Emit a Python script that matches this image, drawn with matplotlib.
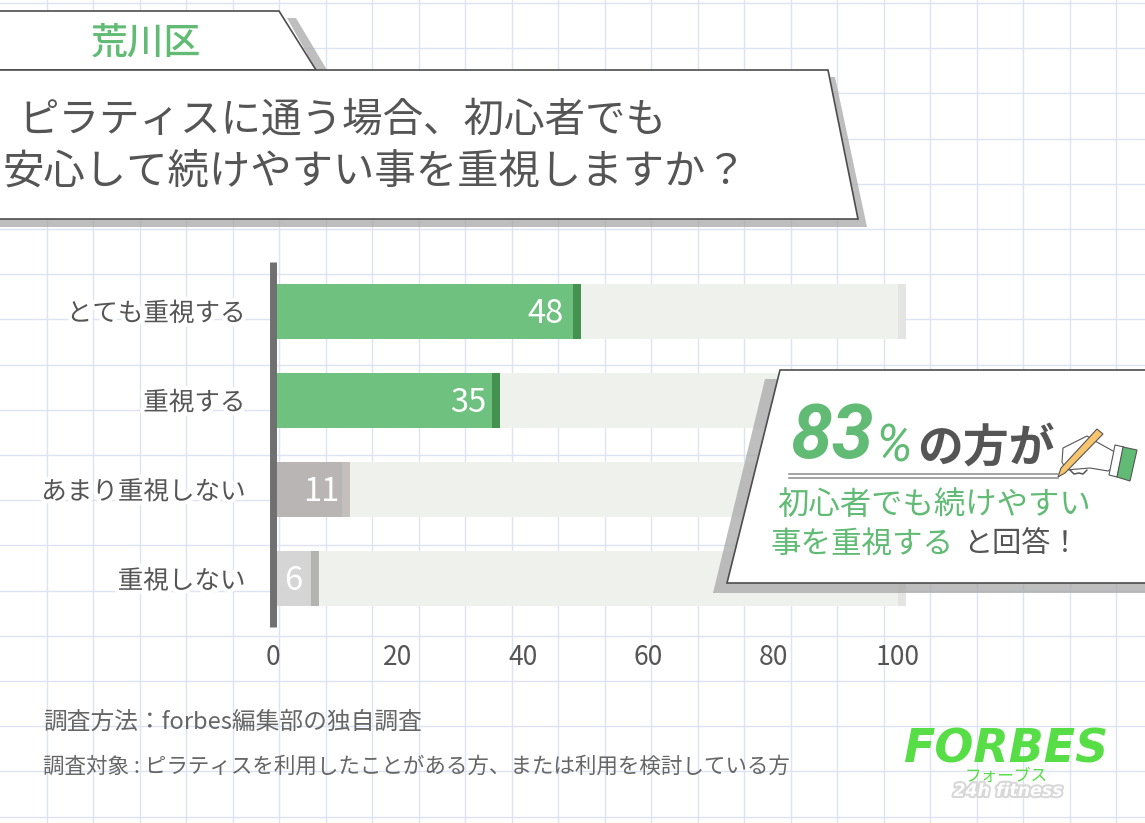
import numpy as np
import matplotlib
matplotlib.use('Agg')
import matplotlib.pyplot as plt
import matplotlib.patheffects as pe
from matplotlib.patches import Polygon

plt.rcParams['font.family'] = ['Noto Sans CJK JP', 'DejaVu Sans']

W, H = 1145, 823

# chart data
categories = ['とても重視する', '重視する', 'あまり重視しない', '重視しない']
values = [48, 35, 11, 6]
xticks = [0, 20, 40, 60, 80, 100]
total = 100

# per-bar styling
bar_colors = ['#6fc17f', '#6fc17f', '#b9b5b5', '#d6d5d5']
cap_colors = ['#45914f', '#45914f', '#c2bfbd', '#b3b3b0']
label_pads = [9, 5, 2, 8]

GREEN = '#62bb75'
DARK = '#555555'

fig = plt.figure(figsize=(W / 100, H / 100), dpi=100)


def pixel_axes(zorder):
    """Full-figure axes in image pixels, y pointing down."""
    a = fig.add_axes([0, 0, 1, 1], zorder=zorder)
    a.set_xlim(0, W)
    a.set_ylim(H, 0)
    a.axis('off')
    return a


# squared paper background
bg = pixel_axes(0)
for x in np.arange(46.5, W, 46.5):
    bg.axvline(x, color='#dde3f3', lw=1.0)
for y in np.arange(3, H, 45.2):
    bg.axhline(y, color='#dde3f3', lw=1.0)

# bars
x0, px_per_unit = 273, 6.25
top, bottom, row = 262, 627, 89.2
ax = fig.add_axes([x0 / W, 1 - bottom / H, 105 * px_per_unit / W, (bottom - top) / H], zorder=1)
ax.patch.set_alpha(0)
ax.set_xlim(0, 105)
ax.set_ylim((bottom - 311) / row, (top - 311) / row)

ypos = np.arange(len(categories))
bar_h = 55 / row
cap_w = 8 / px_per_unit
ax.barh(ypos, [total] * len(ypos), height=bar_h, color='#eff1ed')
ax.barh(ypos, [cap_w] * len(ypos), left=total, height=bar_h, color='#e4e5e2')
ax.barh(ypos, values, height=bar_h, color=bar_colors)
ax.barh(ypos, [cap_w] * len(ypos), left=values, height=bar_h, color=cap_colors)

for y, v, pad in zip(ypos, values, label_pads):
    ax.annotate(str(v), (v, y), xytext=(-pad * 0.72, -2), textcoords='offset points',
                ha='right', va='center', color='white', fontsize=23.5)

for side in ['top', 'right', 'bottom']:
    ax.spines[side].set_visible(False)
ax.spines['left'].set_color('#707070')
ax.spines['left'].set_linewidth(5)
ax.spines['left'].set_capstyle('butt')

ax.set_yticks(ypos)
ax.set_yticklabels(categories, fontsize=18.4, color=DARK)
ax.set_xticks(xticks)
ax.set_xticklabels([str(t) for t in xticks], fontsize=19, color=DARK)
ax.tick_params(axis='y', length=0, pad=20)
ax.tick_params(axis='x', length=0, pad=12.5)
for lab in ax.get_yticklabels():
    lab.set_path_effects([pe.withStroke(linewidth=6, foreground='white')])

# everything on top of the chart
top_ax = pixel_axes(2)
SHADOW = dict(facecolor='#a8a8a8', alpha=0.75, edgecolor='none')
BOX = dict(facecolor='white', edgecolor='#4d4d4d', linewidth=1.2)

# header tab and title box
top_ax.add_patch(Polygon([(287, 18), (296, 18), (327, 70), (316, 70)], **SHADOW))
top_ax.add_patch(Polygon([(-5, 11), (279, 11), (316, 70), (-5, 70)], **BOX))
top_ax.add_patch(Polygon([(828, 77), (835, 77), (867, 227), (-5, 227), (-5, 219), (858, 219)], **SHADOW))
top_ax.add_patch(Polygon([(-5, 70), (828, 70), (858, 219), (-5, 219)], **BOX))
top_ax.text(146, 43, '荒川区', color=GREEN, fontsize=26.5, ha='center', va='center', weight='medium')
top_ax.text(342, 120, 'ピラティスに通う場合、初心者でも', color=DARK, fontsize=29.2, ha='center', va='center')
top_ax.text(375, 173, '安心して続けやすい事を重視しますか？', color=DARK, fontsize=29.8, ha='center', va='center')

# callout
top_ax.add_patch(Polygon([(765, 379), (713, 593), (W + 5, 593), (W + 5, 583), (727, 583), (780, 379)], **SHADOW))
top_ax.add_patch(Polygon([(780, 370), (W + 5, 370), (W + 5, 583), (727, 583)], **BOX))
top_ax.text(790, 437, '83', color=GREEN, fontsize=54, family='Roboto', weight='bold', style='italic',
            ha='left', va='center')
top_ax.text(875, 447, '%', color=GREEN, fontsize=37, family='Roboto', style='italic', ha='left', va='center')
top_ax.text(917, 449, 'の方が', color=DARK, fontsize=33, weight='bold', ha='left', va='center')
top_ax.plot([789, 1058], [474, 474], color='#8a8a8a', lw=1.1)
top_ax.plot([789, 1058], [478, 478], color='#8a8a8a', lw=1.1)
top_ax.text(777, 505, '初心者でも続けやすい', color=GREEN, fontsize=22.6, ha='left', va='center')
top_ax.text(770, 544, '事を重視する', color=GREEN, fontsize=22, ha='left', va='center')
top_ax.text(963, 544, 'と回答！', color=DARK, fontsize=21, ha='left', va='center')

# hand with pencil
line = dict(color='#555555', lw=1.1, solid_capstyle='round')
top_ax.add_patch(Polygon([(1087, 436), (1063, 448), (1062, 462), (1066, 470), (1090, 468), (1108, 471),
                          (1117, 465), (1122, 456), (1095, 441)],
                         facecolor='white', edgecolor='#555555', linewidth=0.8))
top_ax.plot([1070, 1074, 1079, 1083, 1087], [470, 474, 473, 474, 470], **line)
top_ax.add_patch(Polygon([(1058, 477), (1061, 468), (1097, 429), (1103, 434), (1065, 473)],
                         facecolor='#f6c56d', edgecolor='#555555', linewidth=0.8))
top_ax.add_patch(Polygon([(1115, 445), (1124, 447), (1117, 477), (1109, 475)],
                         facecolor='white', edgecolor='#555555', linewidth=0.8))
top_ax.add_patch(Polygon([(1123, 447), (1137, 450), (1130, 481), (1117, 477)],
                         facecolor=GREEN, edgecolor='#555555', linewidth=0.8))

# footnotes
top_ax.text(43, 722, '調査方法：forbes編集部の独自調査', color='#666666', fontsize=17.1, ha='left', va='center')
top_ax.text(43, 767, '調査対象 : ピラティスを利用したことがある方、または利用を検討している方', color='#666666',
            fontsize=15.5, ha='left', va='center')

# logo
top_ax.text(1006, 750, 'FORBES', color='#57dd45', fontsize=33, family='DejaVu Sans', weight='bold',
            style='italic', ha='center', va='center')
top_ax.text(1006, 776, 'フォーブス', color='#57dd45', fontsize=12, ha='center', va='center')
top_ax.text(1008, 791, '24h fitness', color='white', fontsize=12.5, family='DejaVu Sans', weight='bold',
            style='italic', ha='center', va='center',
            path_effects=[pe.withStroke(linewidth=3, foreground='#d8d8d8')])

fig.savefig('out.png', dpi=100)
